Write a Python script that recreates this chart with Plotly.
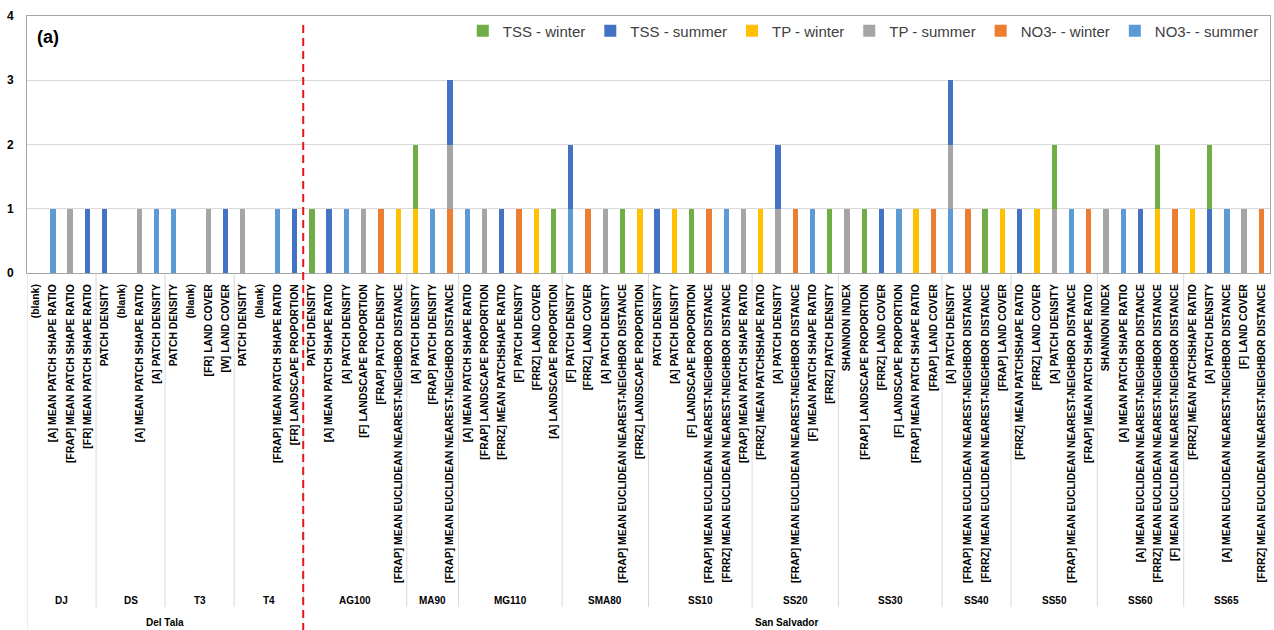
import plotly.graph_objects as go

# Watersheds, sampling sites and the landscape metrics retained at each site
watersheds = ["Del Tala", "San Salvador"]
site_watershed = ["Del Tala"] * 4 + ["San Salvador"] * 11
sites = ["DJ", "DS", "T3", "T4", "AG100", "MA90", "MG110", "SMA80",
         "SS10", "SS20", "SS30", "SS40", "SS50", "SS60", "SS65"]
site_metrics = [
    ["(blank)", "[A] MEAN PATCH SHAPE RATIO", "[FRAP] MEAN PATCH SHAPE RATIO", "[FR] MEAN PATCH SHAPE RATIO"],
    ["PATCH DENSITY", "(blank)", "[A] MEAN PATCH SHAPE RATIO", "[A] PATCH DENSITY"],
    ["PATCH DENSITY", "(blank)", "[FR] LAND COVER", "[W] LAND COVER"],
    ["PATCH DENSITY", "(blank)", "[FRAP] MEAN PATCH SHAPE RATIO", "[FR] LANDSCAPE PROPORTION"],
    ["PATCH DENSITY", "[A] MEAN PATCH SHAPE RATIO", "[A] PATCH DENSITY", "[F] LANDSCAPE PROPORTION",
     "[FRAP] PATCH DENSITY", "[FRAP] MEAN EUCLIDEAN NEAREST-NEIGHBOR DISTANCE"],
    ["[A] PATCH DENSITY", "[FRAP] PATCH DENSITY", "[FRAP] MEAN EUCLIDEAN NEAREST-NEIGHBOR DISTANCE"],
    ["[A] MEAN PATCH SHAPE RATIO", "[FRAP] LANDSCAPE PROPORTION", "[FRRZ] MEAN PATCHSHAPE RATIO",
     "[F] PATCH DENSITY", "[FRRZ] LAND COVER", "[A] LANDSCAPE PROPORTION"],
    ["[F] PATCH DENSITY", "[FRRZ] LAND COVER", "[A] PATCH DENSITY",
     "[FRAP] MEAN EUCLIDEAN NEAREST-NEIGHBOR DISTANCE", "[FRRZ] LANDSCAPE PROPORTION"],
    ["PATCH DENSITY", "[A] PATCH DENSITY", "[F] LANDSCAPE PROPORTION",
     "[FRAP] MEAN EUCLIDEAN NEAREST-NEIGHBOR DISTANCE", "[FRRZ] MEAN EUCLIDEAN NEAREST-NEIGHBOR DISTANCE",
     "[FRAP] MEAN PATCH SHAPE RATIO"],
    ["[FRRZ] MEAN PATCHSHAPE RATIO", "[A] PATCH DENSITY", "[FRAP] MEAN EUCLIDEAN NEAREST-NEIGHBOR DISTANCE",
     "[F] MEAN PATCH SHAPE RATIO", "[FRRZ] PATCH DENSITY"],
    ["SHANNON INDEX", "[FRAP] LANDSCAPE PROPORTION", "[FRRZ] LAND COVER", "[F] LANDSCAPE PROPORTION",
     "[FRAP] MEAN PATCH SHAPE RATIO", "[FRAP] LAND COVER"],
    ["[A] PATCH DENSITY", "[FRAP] MEAN EUCLIDEAN NEAREST-NEIGHBOR DISTANCE",
     "[FRRZ] MEAN EUCLIDEAN NEAREST-NEIGHBOR DISTANCE", "[FRAP] LAND COVER"],
    ["[FRRZ] MEAN PATCHSHAPE RATIO", "[FRRZ] LAND COVER", "[A] PATCH DENSITY",
     "[FRAP] MEAN EUCLIDEAN NEAREST-NEIGHBOR DISTANCE", "[FRAP] MEAN PATCH SHAPE RATIO"],
    ["SHANNON INDEX", "[A] MEAN PATCH SHAPE RATIO", "[A] MEAN EUCLIDEAN NEAREST-NEIGHBOR DISTANCE",
     "[FRRZ] MEAN EUCLIDEAN NEAREST-NEIGHBOR DISTANCE", "[F] MEAN EUCLIDEAN NEAREST-NEIGHBOR DISTANCE"],
    ["[FRRZ] MEAN PATCHSHAPE RATIO", "[A] PATCH DENSITY", "[A] MEAN EUCLIDEAN NEAREST-NEIGHBOR DISTANCE",
     "[F] LAND COVER", "[FRRZ] MEAN EUCLIDEAN NEAREST-NEIGHBOR DISTANCE"],
]

# Counts per metric, one value per metric in site order
#                DJ       DS       T3       T4       AG100        MA90   MG110        SMA80      SS10         SS20       SS30         SS40     SS50       SS60       SS65
tss_winter  = [0,0,0,0, 0,0,0,0, 0,0,0,0, 0,0,0,0, 1,0,0,0,0,0, 1,0,0, 0,0,0,0,0,1, 0,0,0,1,0, 0,0,1,0,0,0, 0,0,0,0,1, 0,1,0,0,0,0, 0,0,1,0, 0,0,1,0,0, 0,0,0,1,0, 0,1,0,0,0]
tss_summer  = [0,0,0,1, 1,0,0,0, 0,0,0,1, 0,0,0,1, 0,1,0,0,0,0, 0,0,1, 0,0,1,0,0,0, 1,0,0,0,0, 1,0,0,0,0,0, 0,1,0,0,0, 0,0,1,0,0,0, 1,0,0,0, 1,0,0,0,0, 0,0,1,0,0, 0,1,0,0,0]
tp_winter   = [0,0,0,0, 0,0,0,0, 0,0,0,0, 0,0,0,0, 0,0,0,0,0,1, 1,0,0, 0,0,0,0,1,0, 0,0,0,0,1, 0,1,0,0,0,0, 1,0,0,0,0, 0,0,0,0,1,0, 0,0,0,1, 0,1,0,0,0, 0,0,0,1,0, 1,0,0,0,0]
tp_summer   = [0,0,1,0, 0,0,1,0, 0,0,1,0, 1,0,0,0, 0,0,0,1,0,0, 0,0,1, 0,1,0,0,0,0, 0,0,1,0,0, 0,0,0,0,0,1, 0,1,0,0,0, 1,0,0,0,0,0, 1,0,0,0, 0,0,1,0,0, 1,0,0,0,0, 0,0,0,1,0]
no3_winter  = [0,0,0,0, 0,0,0,0, 0,0,0,0, 0,0,0,0, 0,0,0,0,1,0, 0,0,1, 0,0,0,1,0,0, 0,1,0,0,0, 0,0,0,1,0,0, 0,0,1,0,0, 0,0,0,0,0,1, 0,1,0,0, 0,0,0,0,1, 0,0,0,0,1, 0,0,0,0,1]
no3_summer  = [0,1,0,0, 0,0,0,1, 1,0,0,0, 0,0,1,0, 0,0,1,0,0,0, 0,1,0, 1,0,0,0,0,0, 1,0,0,0,0, 0,0,0,0,1,0, 0,0,0,1,0, 0,0,0,1,0,0, 1,0,0,0, 0,0,0,1,0, 0,1,0,0,0, 0,0,1,0,0]

series_names = ["TSS - winter", "TSS - summer", "TP - winter", "TP - summer", "NO3- - winter", "NO3- - summer"]
series_values = [tss_winter, tss_summer, tp_winter, tp_summer, no3_winter, no3_summer]
series_colors = ["#70AD47", "#4472C4", "#FFC000", "#A5A5A5", "#ED7D31", "#5B9BD5"]

# Flatten the site/metric hierarchy into consecutive category positions
metric_labels = [m for ms in site_metrics for m in ms]
positions = list(range(len(metric_labels)))
site_start = []
pos = 0
for ms in site_metrics:
    site_start.append(pos)
    pos += len(ms)
n_cat = pos

LABEL_FONT = "Liberation Sans, Arial, sans-serif"

fig = go.Figure()
# Stack from the NO3- summer series at the bottom up to TSS winter on top,
# while the legend lists the series in their natural order
ordered = list(enumerate(zip(series_names, series_values, series_colors)))
for rank, (name, vals, col) in reversed(ordered):
    fig.add_trace(go.Bar(x=positions, y=vals, name=name, marker_color=col,
                         marker_line_width=0, legendrank=rank + 1))

# Plot-area geometry in pixels, used to place items below the axis
H, T, B = 630, 16, 357
plot_h = H - T - B


def py(px):
    """Pixel row to paper y."""
    return (H - B - px) / plot_h


shapes = []
annotations = []

# Light separators between sites in the category table
for i, s in enumerate(site_start):
    if i == 0:
        continue
    shapes.append(dict(type="line", xref="x", yref="paper", x0=s - 0.5, x1=s - 0.5,
                       y0=0, y1=py(607), line=dict(color="#D9D9D9", width=1), layer="below"))
shapes.append(dict(type="line", xref="x", yref="paper", x0=-0.5, x1=-0.5,
                   y0=0, y1=py(630), line=dict(color="#D9D9D9", width=1)))

# Site names centred under their metrics
for i, (s, name) in enumerate(zip(site_start, sites)):
    e = site_start[i + 1] if i + 1 < len(site_start) else n_cat
    annotations.append(dict(x=(s + e - 1) / 2, y=py(600), xref="x", yref="paper",
                            text=name, showarrow=False, yanchor="middle",
                            font=dict(family=LABEL_FONT, size=10, color="#000000", weight="bold")))

# Watershed names centred under their sites
for w in watersheds:
    idx = [i for i, sw in enumerate(site_watershed) if sw == w]
    s = site_start[idx[0]]
    e = site_start[idx[-1] + 1] if idx[-1] + 1 < len(site_start) else n_cat
    annotations.append(dict(x=(s + e - 1) / 2, y=py(622), xref="x", yref="paper",
                            text=w, showarrow=False, yanchor="middle",
                            font=dict(family=LABEL_FONT, size=10, color="#000000", weight="bold")))

# Dashed red boundary between the two watersheds
split = site_start[site_watershed.index("San Salvador")] - 0.5
shapes.append(dict(type="line", xref="x", yref="paper", x0=split, x1=split,
                   y0=py(25), y1=py(630), line=dict(color="#E8141B", width=2, dash="8px,5px")))

# Panel tag
annotations.append(dict(x=0.0065, y=py(37), xref="paper", yref="paper", text="(a)",
                        showarrow=False, xanchor="left", yanchor="middle",
                        font=dict(family=LABEL_FONT, size=18, color="#000000", weight="bold")))

fig.update_layout(
    width=1274, height=630,
    margin=dict(l=27, r=4, t=T, b=B, pad=0),
    paper_bgcolor="white", plot_bgcolor="white",
    barmode="stack", bargap=0.69,
    showlegend=True,
    legend=dict(orientation="h", x=0.995, xanchor="right", y=py(31), yanchor="middle",
                traceorder="normal", bgcolor="rgba(0,0,0,0)",
                font=dict(family=LABEL_FONT, size=15, color="#404040")),
    xaxis=dict(range=[-0.5, n_cat - 0.5], tickmode="array", tickvals=positions,
               ticktext=metric_labels, tickangle=-90, ticks="", ticklabelstandoff=6,
               showgrid=False, zeroline=False, showline=True, mirror=True,
               linecolor="#A6A6A6", linewidth=1, automargin=False,
               tickfont=dict(family=LABEL_FONT, size=10.4, color="#000000", weight="bold")),
    yaxis=dict(range=[0, 4], dtick=1, tick0=0, showgrid=True, gridcolor="#D9D9D9",
               gridwidth=1, zeroline=False, showline=True, mirror=True,
               linecolor="#A6A6A6", linewidth=1, ticks="", ticklabelstandoff=10,
               automargin=False,
               tickfont=dict(family=LABEL_FONT, size=12, color="#000000", weight="bold")),
    shapes=shapes,
    annotations=annotations,
)

fig.write_html("out.html")
